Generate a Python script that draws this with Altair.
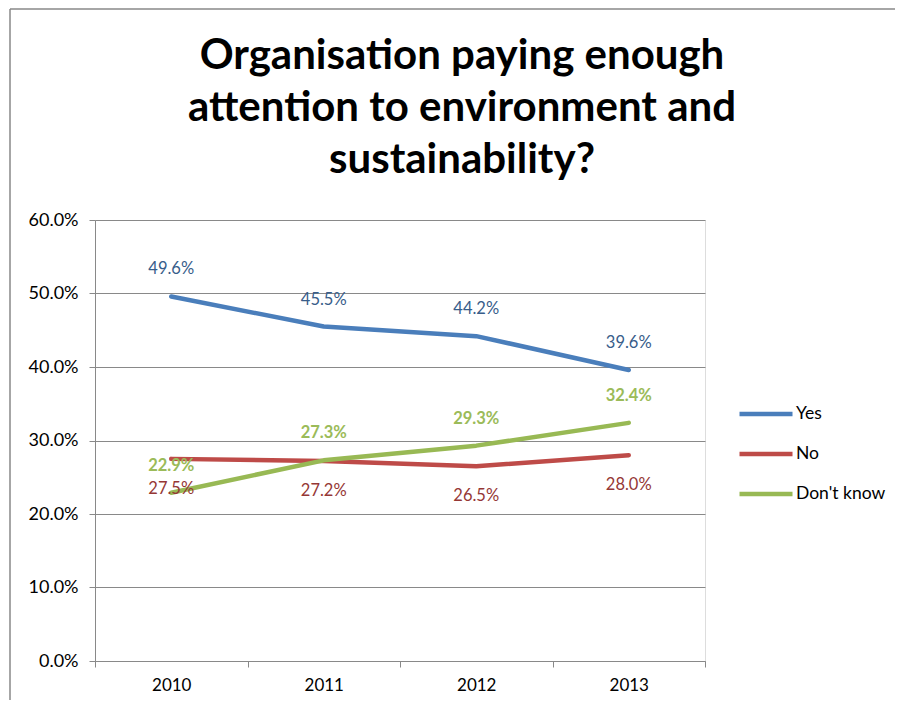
import altair as alt
import pandas as pd

years = ["2010", "2011", "2012", "2013"]
yes_vals = [0.496, 0.455, 0.442, 0.396]
no_vals = [0.275, 0.272, 0.265, 0.280]
dk_vals = [0.229, 0.273, 0.293, 0.324]
series_names = ["Yes", "No", "Don't know"]
line_colors = ["#4a7ebb", "#be4b48", "#98b954"]
title_lines = ["Organisation paying enough", "attention to environment and", "sustainability?"]

rows = []
for name, vals in zip(series_names, [yes_vals, no_vals, dk_vals]):
    for yr, v in zip(years, vals):
        rows.append({"Year": yr, "Series": name, "Value": v})
df = pd.DataFrame(rows)

FONT = "Lato"
W, H = 610, 441

x_enc = alt.X("Year:N", sort=years, title=None,
              scale=alt.Scale(type="band", paddingInner=0, paddingOuter=0),
              axis=alt.Axis(labelAngle=0, tickBand="extent", grid=False,
                            domainColor="#898989", tickColor="#898989",
                            tickSize=6, labelPadding=10, labelFontSize=17,
                            labelColor="#000000", labelFont=FONT))
y_enc = alt.Y("Value:Q", title=None,
              scale=alt.Scale(domain=[0, 0.6], nice=False, zero=True),
              axis=alt.Axis(format=".1%", values=[0, 0.1, 0.2, 0.3, 0.4, 0.5, 0.6],
                            grid=True, gridColor="#898989", gridWidth=1.2,
                            domainColor="#898989", tickColor="#898989",
                            tickSize=6, labelPadding=11, labelFontSize=18,
                            labelColor="#000000", labelFont=FONT))

lines = alt.Chart(df).mark_line(strokeWidth=4.5, strokeCap="round", strokeJoin="round").encode(
    x=x_enc,
    y=y_enc,
    color=alt.Color("Series:N",
                    scale=alt.Scale(domain=series_names, range=line_colors),
                    legend=alt.Legend(title=None, orient="none", legendX=642, legendY=174,
                                      symbolType="stroke", symbolSize=2809,
                                      symbolStrokeWidth=4.5, clipHeight=40,
                                      rowPadding=0, labelOffset=1, padding=0,
                                      labelFontSize=17.5, labelFont=FONT,
                                      labelColor="#000000")),
    detail="Series:N",
)

label_specs = [
    ("Yes", -27, "#385d8a", "normal"),
    ("No", 30, "#953735", "normal"),
    ("Don't know", -27, "#9bbb59", "bold"),
]
texts = []
for name, dy, col, wt in label_specs:
    texts.append(
        alt.Chart(df).transform_filter(alt.datum.Series == name)
        .mark_text(dy=dy, fontSize=16.5, font=FONT, color=col, fontWeight=wt)
        .encode(x=alt.X("Year:N", sort=years), y=alt.Y("Value:Q"),
                text=alt.Text("Value:Q", format=".1%"))
    )

border_src = alt.Data(values=[{"k": 1}])
border_left = alt.Chart(border_src).mark_rule(color="#898989", strokeWidth=1.5).encode(
    x=alt.value(-85), y=alt.value(-211), y2=alt.value(480))
border_top = alt.Chart(border_src).mark_rule(color="#898989", strokeWidth=1.5).encode(
    x=alt.value(-85), x2=alt.value(800), y=alt.value(-211))

chart = alt.layer(border_left, border_top, lines, *texts).properties(
    width=W, height=H,
    autosize=alt.AutoSizeParams(type="none"),
    padding={"left": 87, "top": 212, "right": 190, "bottom": 40},
    title=alt.TitleParams(title_lines, anchor="middle", frame="group", dx=62,
                          offset=-174, fontSize=42, font=FONT, fontWeight="bold",
                          lineHeight=52, color="#000000"),
).configure_view(stroke=None).configure(background="white")

chart.save("out.html", embed_options={"renderer": "svg", "actions": False})
